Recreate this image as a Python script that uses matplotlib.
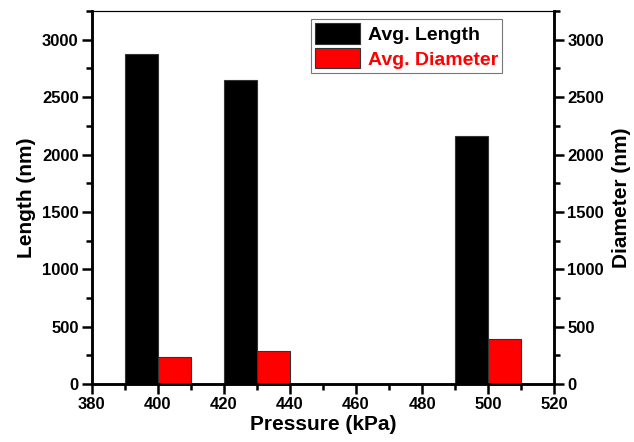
import matplotlib
matplotlib.use("Agg")
import matplotlib.pyplot as plt
from matplotlib.ticker import MultipleLocator

plt.rcParams['font.family'] = ['Liberation Sans', 'DejaVu Sans']
plt.rcParams['font.weight'] = 'bold'

pressure = [400, 430, 500]
avg_length = [2875, 2650, 2160]
avg_diameter = [240, 290, 390]
bar_width = 10

fig = plt.figure(figsize=(6.34, 4.42), dpi=100)
ax = fig.add_axes([0.145, 0.131, 0.729, 0.844])
ax2 = ax.twinx()

lx = [p - bar_width / 2 for p in pressure]
dx = [p + bar_width / 2 for p in pressure]
b1 = ax.bar(lx, avg_length, width=bar_width, color='black', edgecolor='#333333', linewidth=0.8, label='Avg. Length')
b2 = ax2.bar(dx, avg_diameter, width=bar_width, color='red', edgecolor='#333333', linewidth=0.8, label='Avg. Diameter')

for a in (ax, ax2):
    a.set_ylim(0, 3250)
    a.yaxis.set_major_locator(MultipleLocator(500))
    a.yaxis.set_minor_locator(MultipleLocator(250))
    for s in a.spines.values():
        s.set_linewidth(1.8)
    a.tick_params(axis='both', which='major', direction='out', length=7, width=1.8, labelsize=12, pad=2.5)
    a.tick_params(axis='both', which='minor', direction='out', length=4, width=1.8)
ax.spines['top'].set_linewidth(0.8)
ax2.spines['top'].set_linewidth(0.8)

ax.set_xlim(380, 520)
ax.xaxis.set_major_locator(MultipleLocator(20))
ax.xaxis.set_minor_locator(MultipleLocator(10))

ax.set_xlabel('Pressure (kPa)', fontsize=15, fontweight='bold', labelpad=2)
ax.set_ylabel('Length (nm)', fontsize=15, fontweight='bold', labelpad=4)
ax2.set_ylabel('Diameter (nm)', fontsize=15, fontweight='bold', labelpad=6)

leg = ax.legend([b1, b2], ['Avg. Length', 'Avg. Diameter'], loc='upper left',
                bbox_to_anchor=(0.475, 0.978), fontsize=14, frameon=True, fancybox=False,
                edgecolor='#555555', handlelength=2.3, handleheight=1.25, handletextpad=0.4,
                borderpad=0.2, labelspacing=0.2, borderaxespad=0)
leg.get_frame().set_linewidth(0.8)
for t in leg.get_texts():
    t.set_fontweight('bold')
leg.get_texts()[1].set_color('red')
leg.remove()
ax2.add_artist(leg)

fig.savefig('out.png', dpi=100)
